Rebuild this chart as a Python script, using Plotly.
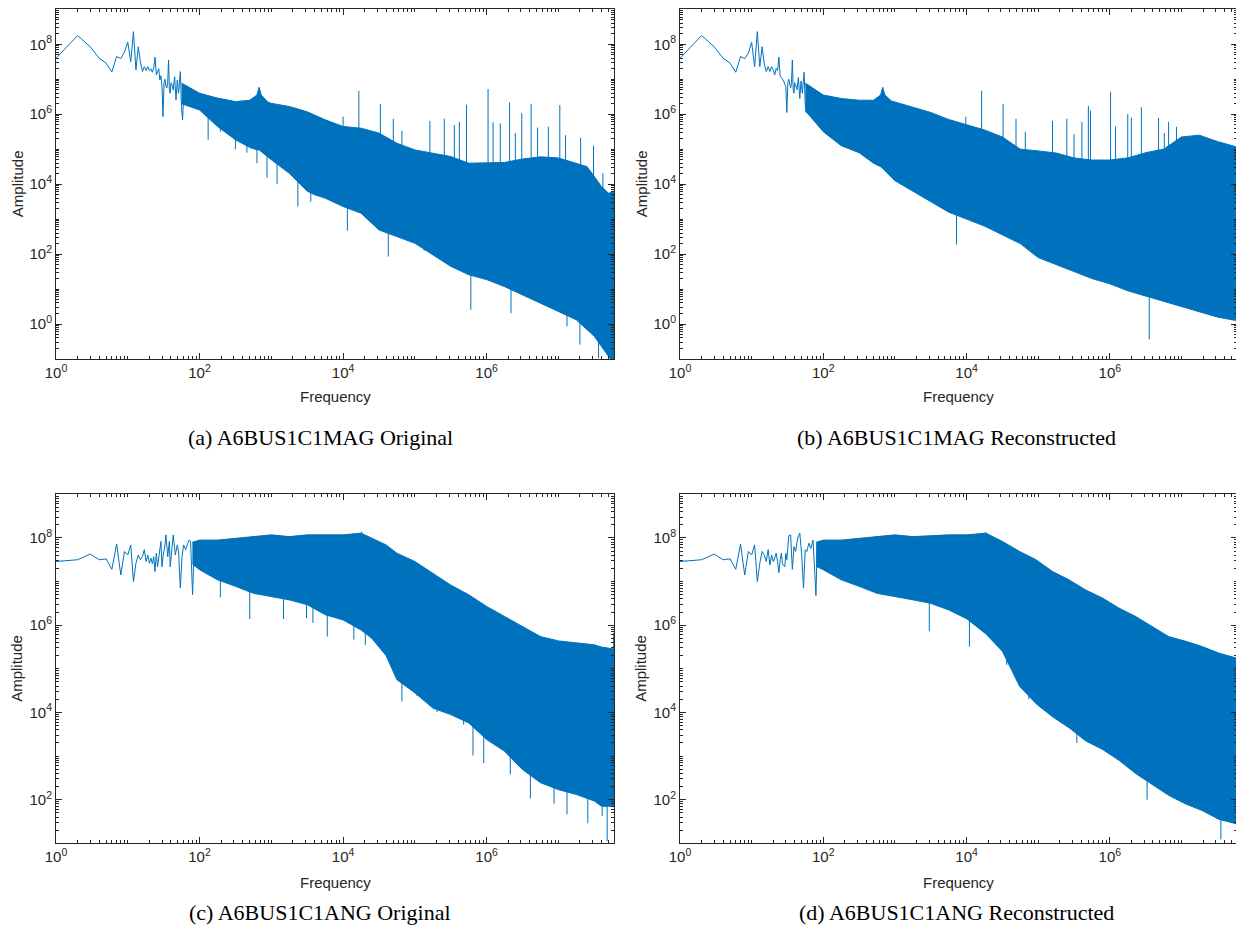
import math
import plotly.graph_objects as go

# ------------------------------------------------------------------
# Data. Amplitudes and band frequencies are stored
# as log10 values (decades), as they were read off the log-log axes.
# ------------------------------------------------------------------

# ---- (a) A6BUS1C1MAG Original ----
A_LF_F = list(range(1, 41)) + [41, 43, 45, 47, 49, 51, 54, 56, 58, 61]
A_LF_A = [7.60, 8.25, 7.93, 7.60, 7.46, 7.21, 7.65, 7.59, 7.78, 8.06,
          7.50, 8.36, 7.27, 7.93, 7.50, 7.22, 7.36, 7.25, 7.36, 7.25,
          7.30, 7.20, 7.33, 7.63, 7.12, 7.20, 7.30, 6.98, 7.10, 6.79,
          5.93, 6.90, 7.00, 6.80, 6.75, 6.90, 7.55, 6.70, 6.60, 6.90,
          6.88, 6.69, 7.07, 6.41, 6.98, 6.60, 7.22, 6.22, 5.84, 6.79]
A_BAND_LOGF = [1.75, 2.00, 2.25, 2.50, 2.70, 2.80, 2.83, 2.86, 2.95, 3.00, 3.25,
               3.50, 3.60, 3.75, 4.00, 4.25, 4.50, 4.75, 5.00, 5.25, 5.50, 5.75, 6.00,
               6.25, 6.50, 6.75, 7.00, 7.25, 7.40, 7.50, 7.60, 7.70, 7.78]
A_BAND_HI = [6.89, 6.60, 6.46, 6.36, 6.40, 6.55, 6.77, 6.55, 6.35, 6.31, 6.22,
             6.07, 5.98, 5.84, 5.65, 5.60, 5.46, 5.17, 4.98, 4.89, 4.79, 4.60, 4.60,
             4.62, 4.72, 4.78, 4.75, 4.60, 4.50, 4.22, 3.93, 3.74, 3.80]
A_BAND_LO = [6.30, 6.12, 5.65, 5.27, 5.05, 4.98, 4.98, 4.95, 4.78, 4.70, 4.31,
             3.80, 3.70, 3.60, 3.36, 3.17, 2.69, 2.50, 2.31, 1.98, 1.65, 1.41, 1.27,
             1.07, 0.84, 0.60, 0.36, 0.12, -0.16, -0.35, -0.64, -0.93, -1.10]
A_UP_LOGF = [4.00, 4.22, 4.52, 4.70, 4.82, 5.21, 5.41, 5.55, 5.62, 5.72, 6.02, 6.09,
             6.19, 6.32, 6.40, 6.49, 6.62, 6.71, 6.86, 7.02, 7.10, 7.31, 7.49, 7.62]
A_UP_TOP = [5.93, 6.67, 6.29, 5.87, 5.52, 5.81, 5.87, 5.69, 5.78, 6.27, 6.72, 5.77,
            5.74, 6.34, 5.46, 6.03, 6.30, 5.62, 5.64, 6.26, 5.40, 5.33, 5.10, 4.31]
A_UP_BASE = [5.0, 5.0, 5.0, 4.8, 4.6, 4.4, 4.4, 4.2, 4.2, 4.2, 4.0, 4.0,
             4.0, 4.0, 4.0, 4.0, 4.0, 4.0, 4.0, 4.0, 4.0, 4.0, 3.5, 3.0]
A_DN_LOGF = [2.12, 2.29, 2.50, 2.66, 2.80, 2.94, 3.08, 3.37, 3.55, 4.06, 4.63, 5.13,
             5.78, 6.34, 6.61, 7.12, 7.30, 7.56]
A_DN_BOT = [5.27, 5.50, 5.00, 4.90, 4.60, 4.18, 4.00, 3.36, 3.50, 2.67, 1.93, 2.10,
            0.41, 0.31, 0.75, -0.07, -0.59, -0.97]
A_DN_BASE = [6.0, 6.0, 5.6, 5.4, 5.2, 5.0, 4.8, 4.5, 4.2, 3.8, 3.0, 2.8,
             2.0, 1.5, 1.2, 1.0, 0.5, 0.0]

# ---- (b) A6BUS1C1MAG Reconstructed ----
B_LF_F = list(range(1, 41)) + [41, 43, 45, 47, 49, 51, 54, 56, 58, 61]
B_LF_A = [7.60, 8.25, 7.93, 7.60, 7.46, 7.20, 7.65, 7.59, 7.74, 8.06,
          7.36, 8.36, 7.36, 7.93, 7.44, 7.22, 7.36, 7.22, 7.36, 7.27,
          7.12, 7.31, 7.25, 7.63, 7.10, 7.05, 7.00, 6.95, 6.85, 6.80,
          6.05, 6.90, 7.00, 6.80, 6.75, 6.90, 7.55, 6.70, 6.60, 6.90,
          6.85, 6.70, 7.05, 6.45, 6.95, 6.60, 7.20, 6.25, 6.05, 6.75]
B_BAND_LOGF = [1.75, 2.00, 2.25, 2.50, 2.70, 2.80, 2.83, 2.86, 2.95, 3.00, 3.25,
               3.50, 3.75, 4.00, 4.25, 4.50, 4.75, 5.00, 5.25, 5.50, 5.75, 6.00, 6.25,
               6.50, 6.75, 7.00, 7.25, 7.50, 7.76]
B_BAND_HI = [6.89, 6.55, 6.45, 6.40, 6.40, 6.55, 6.77, 6.55, 6.38, 6.35, 6.20,
             6.05, 5.85, 5.70, 5.55, 5.35, 5.00, 4.95, 4.89, 4.75, 4.69, 4.69, 4.75,
             4.90, 5.00, 5.35, 5.40, 5.22, 5.07]
B_BAND_LO = [6.10, 5.50, 5.10, 4.90, 4.60, 4.50, 4.45, 4.40, 4.20, 4.10, 3.80,
             3.50, 3.20, 3.00, 2.80, 2.55, 2.30, 1.90, 1.70, 1.50, 1.30, 1.15, 0.95,
             0.80, 0.65, 0.50, 0.35, 0.20, 0.10]
B_UP_LOGF = [3.99, 4.21, 4.51, 4.69, 4.82, 5.20, 5.40, 5.50, 5.61, 5.70, 5.73, 6.01,
             6.08, 6.25, 6.30, 6.44, 6.68, 6.76, 6.82, 6.93]
B_UP_TOP = [5.93, 6.67, 6.29, 5.87, 5.50, 5.81, 5.87, 5.43, 5.78, 6.24, 6.10, 6.64,
            5.65, 6.00, 5.90, 6.20, 5.90, 5.46, 5.78, 5.64]
B_UP_BASE = [5.0, 5.0, 5.0, 4.8, 4.6, 4.5, 4.5, 4.5, 4.4, 4.4, 4.4, 4.4,
             4.4, 4.4, 4.4, 4.5, 4.5, 4.5, 4.5, 4.8]
B_DN_LOGF = [3.86, 6.55]
B_DN_BOT = [2.27, -0.44]
B_DN_BASE = [4.5, 1.5]

# ---- (c) A6BUS1C1ANG Original ----
C_LF_F = list(range(1, 28)) + [29, 30, 31, 33, 34, 36, 38, 39, 41, 43, 46, 49, 51, 54,
                               57, 60, 64, 66, 71, 75, 80, 84]
C_LF_A = [7.46, 7.50, 7.63, 7.50, 7.52, 7.28, 7.86, 7.15, 7.69, 7.61, 7.84, 7.00, 7.42,
          7.61, 7.50, 7.57, 7.73, 7.46, 7.61, 7.42, 7.54, 7.41, 7.57, 7.23, 7.65, 7.34,
          7.54,
          7.92, 7.34, 7.57, 7.84, 8.07, 7.57, 7.92, 7.34, 7.69, 8.07, 7.61, 7.84, 7.69,
          6.85, 7.57, 7.84, 7.73, 7.80, 7.95, 7.92, 6.70, 7.76]
C_BAND_LOGF = [1.90, 2.00, 2.25, 2.50, 2.75, 3.00, 3.25, 3.50, 3.75, 4.00, 4.25, 4.40,
               4.50, 4.60, 4.75, 5.00, 5.25, 5.50, 5.75, 6.00, 6.25, 6.50, 6.75, 7.00,
               7.25, 7.50, 7.60, 7.78]
C_BAND_HI = [7.90, 7.95, 7.95, 7.99, 8.03, 8.07, 8.03, 8.07, 8.07, 8.07, 8.11, 7.99,
             7.92, 7.84, 7.65, 7.46, 7.19, 6.92, 6.70, 6.43, 6.20, 5.97, 5.74, 5.64,
             5.60, 5.55, 5.50, 5.45]
C_BAND_LO = [7.40, 7.27, 7.04, 6.89, 6.73, 6.66, 6.58, 6.47, 6.24, 6.12, 5.89, 5.70,
             5.51, 5.30, 4.75, 4.45, 4.10, 3.95, 3.76, 3.38, 3.11, 2.69, 2.39, 2.23,
             2.12, 1.97, 1.85, 1.85]
C_UP_LOGF = [4.26, 7.77]
C_UP_TOP = [8.14, 5.82]
C_UP_BASE = [7.5, 5.0]
C_DN_LOGF = [2.29, 2.70, 3.17, 3.49, 3.58, 3.78, 4.15, 4.31, 4.66, 4.82, 5.03, 5.31, 5.68,
             5.81, 5.96, 6.33, 6.61, 6.94, 7.12, 7.41, 7.61, 7.68]
C_DN_BOT = [6.64, 6.14, 6.14, 6.16, 6.05, 5.74, 5.67, 5.55, 5.36, 4.25, 4.38, 4.01, 3.72,
            3.01, 2.84, 2.58, 2.03, 1.91, 1.66, 1.46, 1.62, 1.05]
C_DN_BASE = [7.3, 7.0, 7.0, 7.0, 6.8, 6.6, 6.5, 6.3, 6.0, 5.5, 5.0, 4.6, 4.2,
             4.0, 3.8, 3.5, 3.0, 2.6, 2.5, 2.3, 2.2, 2.2]

# ---- (d) A6BUS1C1ANG Reconstructed ----
D_LF_F = list(range(1, 28)) + [29, 30, 31, 33, 35, 37, 39, 41, 44, 47, 50, 53, 56, 59,
                               63, 67, 72, 79, 82]
D_LF_A = [7.46, 7.50, 7.63, 7.50, 7.52, 7.28, 7.86, 7.15, 7.69, 7.61, 7.84, 7.00, 7.42,
          7.69, 7.61, 7.46, 7.73, 7.38, 7.61, 7.46, 7.54, 7.65, 7.46, 7.20, 7.50, 7.65,
          7.40,
          7.34, 7.65, 7.50, 8.05, 8.07, 7.28, 7.80, 7.69, 8.00, 8.11, 7.61, 6.85, 7.73,
          7.69, 7.88, 7.76, 7.95, 6.68, 7.76]
D_BAND_LOGF = [1.90, 2.00, 2.25, 2.50, 2.75, 3.00, 3.25, 3.50, 3.75, 4.00, 4.27, 4.50,
               4.74, 4.97, 5.20, 5.43, 5.66, 5.90, 6.13, 6.36, 6.59, 6.82, 7.06, 7.29,
               7.52, 7.76]
D_BAND_HI = [7.90, 7.95, 7.95, 7.99, 8.03, 8.07, 8.03, 8.05, 8.07, 8.07, 8.11, 7.92,
             7.69, 7.50, 7.23, 7.04, 6.81, 6.62, 6.39, 6.20, 5.97, 5.74, 5.63, 5.51,
             5.36, 5.25]
D_BAND_LO = [7.35, 7.27, 7.04, 6.89, 6.73, 6.66, 6.58, 6.50, 6.35, 6.15, 5.80, 5.40,
             4.60, 4.20, 3.90, 3.65, 3.35, 3.15, 2.90, 2.60, 2.35, 2.10, 1.90, 1.75,
             1.55, 1.45]
D_UP_LOGF = [4.27]
D_UP_TOP = [8.13]
D_UP_BASE = [7.5]
D_DN_LOGF = [3.48, 4.04, 4.56, 4.87, 5.54, 6.52, 7.55]
D_DN_BOT = [5.86, 5.51, 5.09, 4.30, 3.30, 2.00, 1.09]
D_DN_BASE = [7.0, 6.8, 6.5, 5.0, 4.2, 3.0, 2.5]

CAPTIONS = ["(a) A6BUS1C1MAG Original", "(b) A6BUS1C1MAG Reconstructed",
            "(c) A6BUS1C1ANG Original", "(d) A6BUS1C1ANG Reconstructed"]

# ------------------------------------------------------------------
BLUE = "#0072BD"
AX = "#262626"
W, H = 1244, 937
OFF = 8  # the page body margin that shifts the figure in the browser


def dec(v):
    return [10.0 ** x for x in v]


panels = [
    dict(lf_f=A_LF_F, lf_a=A_LF_A, bf=A_BAND_LOGF, hi=A_BAND_HI, lo=A_BAND_LO,
         up=(A_UP_LOGF, A_UP_TOP, A_UP_BASE), dn=(A_DN_LOGF, A_DN_BOT, A_DN_BASE)),
    dict(lf_f=B_LF_F, lf_a=B_LF_A, bf=B_BAND_LOGF, hi=B_BAND_HI, lo=B_BAND_LO,
         up=(B_UP_LOGF, B_UP_TOP, B_UP_BASE), dn=(B_DN_LOGF, B_DN_BOT, B_DN_BASE)),
    dict(lf_f=C_LF_F, lf_a=C_LF_A, bf=C_BAND_LOGF, hi=C_BAND_HI, lo=C_BAND_LO,
         up=(C_UP_LOGF, C_UP_TOP, C_UP_BASE), dn=(C_DN_LOGF, C_DN_BOT, C_DN_BASE)),
    dict(lf_f=D_LF_F, lf_a=D_LF_A, bf=D_BAND_LOGF, hi=D_BAND_HI, lo=D_BAND_LO,
         up=(D_UP_LOGF, D_UP_TOP, D_UP_BASE), dn=(D_DN_LOGF, D_DN_BOT, D_DN_BASE)),
]

# pixel geometry (in the page) of the four plot boxes: (left, right, top, bottom)
boxes = [(56, 614, 9.3, 359), (680, 1237, 9.3, 359),
         (56, 614, 494.3, 843.3), (680, 1237, 494.3, 843.3)]
yranges = [[-1, 9], [-1, 9], [1, 9], [1, 9]]


def px(x):
    return (x - OFF) / W


def py(y):
    return 1 - (y - OFF) / H


fig = go.Figure()

for i, p in enumerate(panels):
    xa = "x" if i == 0 else f"x{i + 1}"
    ya = "y" if i == 0 else f"y{i + 1}"
    common = dict(xaxis=xa, yaxis=ya, hoverinfo="skip", showlegend=False)
    # dense band (the FFT bins that merge into a solid area)
    bx = dec(p["bf"]) + dec(p["bf"][::-1])
    by = dec(p["hi"]) + dec(p["lo"][::-1])
    fig.add_trace(go.Scatter(x=bx, y=by, mode="lines", fill="toself", fillcolor=BLUE,
                             line=dict(color=BLUE, width=1), **common))
    # isolated spikes
    sx, sy = [], []
    for f, t, b in list(zip(*p["up"])) + list(zip(*p["dn"])):
        sx += [10 ** f, 10 ** f, None]
        sy += [10 ** b, 10 ** t, None]
    fig.add_trace(go.Scatter(x=sx, y=sy, mode="lines",
                             line=dict(color=BLUE, width=1), **common))
    # resolved low-frequency bins
    fig.add_trace(go.Scatter(x=p["lf_f"], y=dec(p["lf_a"]), mode="lines",
                             line=dict(color=BLUE, width=1), **common))

# tick positions
X_MAJ = [1, 1e2, 1e4, 1e6]
X_MIN = [k * 10 ** d for d in range(0, 8) for k in range(1, 10)
         if not (k == 1 and d % 2 == 0) and k * 10 ** d <= 6e7]
tickfont = dict(family="Liberation Sans, Arial, sans-serif", size=15, color=AX)


def sup(v):
    return "10<sup>%d</sup>" % round(math.log10(v))


layout = dict(width=W, height=H, margin=dict(l=0, r=0, t=0, b=0, autoexpand=False),
              paper_bgcolor="white", plot_bgcolor="white", showlegend=False)

for i, (l, r, t, b) in enumerate(boxes):
    sfx = "" if i == 0 else str(i + 1)
    lo_d, hi_d = yranges[i]
    y_maj = [10.0 ** d for d in range(lo_d, hi_d + 1) if d % 2 == 0 and 0 <= d <= 8]
    y_min = [k * 10.0 ** d for d in range(lo_d, hi_d + 1) for k in range(1, 10)
             if not (k == 1 and d % 2 == 0) and k * 10.0 ** d <= 10.0 ** hi_d * 1.0001]
    layout["xaxis" + sfx] = dict(
        type="log", domain=[px(l), px(r)], anchor="y" + sfx, range=[0, 7.775],
        automargin=False,
        tickmode="array", tickvals=X_MAJ, ticktext=[sup(v) for v in X_MAJ],
        ticks="inside", ticklen=6, tickwidth=1, tickcolor=AX,
        minor=dict(tickmode="array", tickvals=X_MIN, ticks="inside", ticklen=3,
                   tickwidth=1, tickcolor=AX, showgrid=False),
        showline=True, linecolor=AX, linewidth=1, mirror="allticks",
        showgrid=False, zeroline=False, tickfont=tickfont, fixedrange=True)
    layout["yaxis" + sfx] = dict(
        type="log", domain=[py(b), py(t)], anchor="x" + sfx, range=[lo_d, hi_d],
        automargin=False,
        tickmode="array", tickvals=y_maj, ticktext=[sup(v) for v in y_maj],
        ticks="inside", ticklen=6, tickwidth=1, tickcolor=AX,
        minor=dict(tickmode="array", tickvals=y_min, ticks="inside", ticklen=3,
                   tickwidth=1, tickcolor=AX, showgrid=False),
        showline=True, linecolor=AX, linewidth=1, mirror="allticks",
        showgrid=False, zeroline=False, tickfont=tickfont, fixedrange=True)

annotations = []
label_font = dict(family="Liberation Sans, Arial, sans-serif", size=15, color=AX)
cap_font = dict(family="Liberation Serif, Times New Roman, serif", size=22, color="black")
amp_x = [17, 641, 17, 641]
freq_y = [397, 397, 882, 882]
cap_x = [320, 956.5, 320, 956.5]
cap_y = [437, 437, 912, 912]
for i, (l, r, t, b) in enumerate(boxes):
    annotations.append(dict(text="Amplitude", x=px(amp_x[i]), y=py((t + b) / 2),
                            xref="paper", yref="paper", textangle=-90, showarrow=False,
                            xanchor="center", yanchor="middle", font=label_font))
    annotations.append(dict(text="Frequency", x=px((l + r) / 2), y=py(freq_y[i]),
                            xref="paper", yref="paper", showarrow=False,
                            xanchor="center", yanchor="middle", font=label_font))
    annotations.append(dict(text=CAPTIONS[i], x=px(cap_x[i]), y=py(cap_y[i]),
                            xref="paper", yref="paper", showarrow=False,
                            xanchor="center", yanchor="middle", font=cap_font))
layout["annotations"] = annotations

fig.update_layout(**layout)
fig.write_html("out.html")
